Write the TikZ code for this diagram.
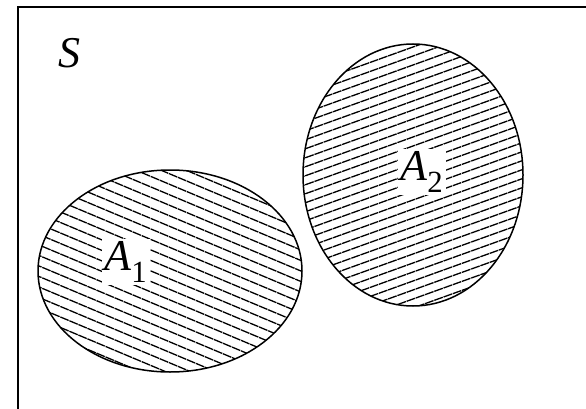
\documentclass[tikz,border=0pt]{standalone}
\usepackage{fontspec}
\newfontfamily\setfont{Liberation Serif}
\begin{document}
\begin{tikzpicture}[x=1pt, y=-1pt,
        hatch/.style={line width=1.3pt, dash pattern=on 9pt off 0.8pt},
        rim/.style={line width=1.5pt},
        lbl/.style={fill=white, inner sep=2.5pt, font=\setfont\fontsize{44}{44}\selectfont\itshape}]
            % 1. Fix the visible area and draw the sample space frame
            \useasboundingbox (0,0) rectangle (586,409);
            \clip (0,0) rectangle (586,409);
            \draw[line width=1.8pt] (18,430) -- (18,7) -- (600,7);

            % 2. Centres of the two events
            \coordinate (c1) at (170,271);
            \coordinate (c2) at (413,175);

            % 3. Hatch the first event (lines falling to the right)
            \begin{scope}
                \clip (c1) ellipse [x radius=132, y radius=101];
                \begin{scope}[shift={(c1)}]
                    \foreach \d in {-160,-149.5,...,170}
                        \draw[hatch] (-200,\d-84) -- (200,\d+84);
                \end{scope}
            \end{scope}

            % 4. Hatch the second event (lines rising to the right)
            \begin{scope}
                \clip (c2) ellipse [x radius=110, y radius=131];
                \begin{scope}[shift={(c2)}]
                    \foreach \d in {-200,-191,...,210}
                        \draw[hatch] (-200,\d+72) -- (200,\d-72);
                \end{scope}
            \end{scope}

            % 5. Outlines of the events
            \draw[rim] (c1) ellipse [x radius=132, y radius=101];
            \draw[rim] (c2) ellipse [x radius=110, y radius=131];

            % 6. Labels
            \node[lbl, fill=none] (S) at (69,53) {S};
            \node[lbl] (A1) at (126,262) {A\textsubscript{\upshape 1}};
            \node[lbl] (A2) at (422,172) {A\textsubscript{\upshape 2}};

        \end{tikzpicture}
\end{document}
